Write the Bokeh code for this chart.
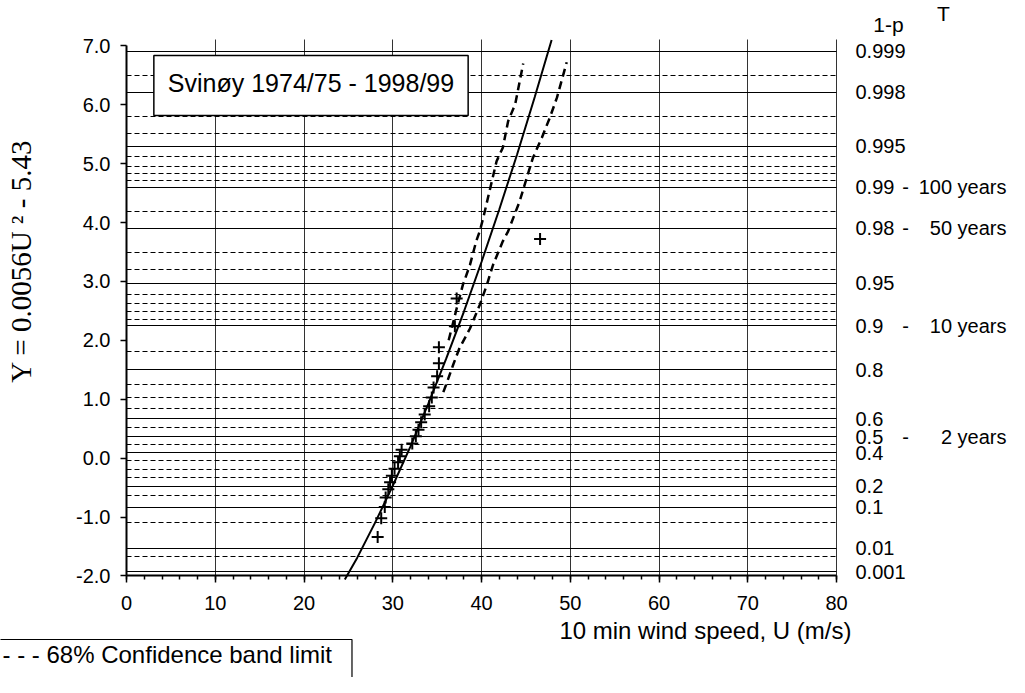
import math
from bokeh.plotting import figure
from bokeh.models import FixedTicker, SingleIntervalTicker, NumeralTickFormatter, Grid, Label
from bokeh.embed import file_html
from bokeh.resources import INLINE

# ---------------- data ----------------
obs_u = [28.3, 28.7, 29.1, 29.2, 29.5, 29.7, 29.9, 30.2, 30.6, 30.8, 31.0, 32.2, 32.6,
         32.9, 33.2, 33.6, 34.1, 34.4, 34.6, 35.0, 35.2, 35.2, 37.0, 37.2, 46.6]
obs_y = [-1.34, -1.02, -0.83, -0.67, -0.53, -0.41, -0.30, -0.18, -0.07, 0.03, 0.14, 0.25, 0.37,
         0.48, 0.61, 0.74, 0.88, 1.03, 1.20, 1.39, 1.61, 1.88, 2.24, 2.71, 3.72]

fit_u = [24.6, 26.0, 28.0, 30.0, 32.0, 34.0, 36.0, 38.0, 40.0, 42.0, 44.0, 46.0, 47.9]
fit_y = [-2.06, -1.69, -1.10, -0.47, 0.20, 0.92, 1.68, 2.48, 3.33, 4.22, 5.15, 6.13, 7.10]

band_lo_u = [36.3, 37.2, 37.9, 38.7, 39.4, 39.8, 40.2, 40.9, 41.7, 42.4, 43.0, 43.8, 44.7]
band_lo_y = [2.00, 2.54, 2.94, 3.28, 3.68, 3.85, 4.08, 4.53, 5.04, 5.27, 5.72, 6.01, 6.70]
band_hi_u = [35.7, 36.0, 36.8, 37.5, 38.7, 39.8, 40.6, 41.3, 42.4, 43.0, 44.3, 45.1, 45.8, 46.8, 47.7, 48.5, 49.6]
band_hi_y = [1.12, 1.24, 1.58, 1.86, 2.20, 2.60, 2.94, 3.28, 3.68, 3.85, 4.36, 4.76, 5.10, 5.44, 5.78, 6.12, 6.72]

x_ticks = [0, 10, 20, 30, 40, 50, 60, 70, 80]
y_ticks = [-2, -1, 0, 1, 2, 3, 4, 5, 6, 7]

prob_major = [0.999, 0.998, 0.995, 0.99, 0.98, 0.95, 0.9, 0.8, 0.6, 0.5, 0.4, 0.2, 0.1, 0.01, 0.001]
prob_major_labels = ["0.999", "0.998", "0.995", "0.99", "0.98", "0.95", "0.9", "0.8",
                     "0.6", "0.5", "0.4", "0.2", "0.1", "0.01", "0.001"]
prob_minor = [0.9985, 0.997, 0.996, 0.994, 0.993, 0.992, 0.991, 0.985, 0.97, 0.96, 0.94, 0.93,
              0.92, 0.91, 0.85, 0.75, 0.7, 0.65, 0.55, 0.45, 0.35, 0.3, 0.25, 0.15, 0.05, 0.005]
period_prob = [0.99, 0.98, 0.9, 0.5]
period_labels = ["100 years", "50 years", "10 years", "2 years"]

title_text = "Svinøy 1974/75 - 1998/99"
ylabel_text = "Y = 0.0056U ²  - 5.43"
xlabel_text = "10 min wind speed, U (m/s)"
legend_text = "- - - 68% Confidence band limit"

X_MIN, X_MAX = 0, 80
Y_MIN, Y_MAX = -2, 7
Y_TOP = 7.1


def gumbel(p):
    return -math.log(-math.log(p))


# page-pixel helpers for placing annotations (page = canvas + 8)
X0, XS = 134.0, 8.875
Y7, YS = 53.3, 58.9


def ax(px):
    return (px - X0) / XS


def ay(py):
    return 7.0 - (py - Y7) / YS


SANS = "Liberation Sans"
SERIF = "Liberation Serif"

W, H = 1009, 677
p = figure(width=W, height=H, x_range=(ax(8), ax(8 + W)), y_range=(ay(8 + H), ay(8)),
           output_backend="svg", toolbar_location=None,
           min_border_left=0, min_border_right=0, min_border_top=0, min_border_bottom=0)
p.outline_line_color = None
p.background_fill_color = "white"

# axes placed at fixed data locations
p.xaxis.fixed_location = Y_MIN
p.xaxis.bounds = (X_MIN, X_MAX)
p.xaxis.ticker = SingleIntervalTicker(interval=10, num_minor_ticks=5)
p.xaxis.axis_line_width = 2
p.xaxis.axis_line_color = "black"
p.xaxis.major_tick_out = 7
p.xaxis.major_tick_in = 0
p.xaxis.minor_tick_out = 4
p.xaxis.minor_tick_in = 0
p.xaxis.major_tick_line_width = 1.5
p.xaxis.minor_tick_line_width = 1.5
p.xaxis.major_label_text_font = SANS
p.xaxis.major_label_text_font_size = "20px"
p.xaxis.major_label_text_color = "black"
p.xaxis.major_label_standoff = 13

p.yaxis.fixed_location = X_MIN
p.yaxis.ticker = FixedTicker(ticks=y_ticks)
p.yaxis.formatter = NumeralTickFormatter(format="0.0")
p.yaxis.bounds = (Y_MIN, Y_MAX)
p.yaxis.axis_line_width = 2
p.yaxis.axis_line_color = "black"
p.yaxis.major_tick_out = 6
p.yaxis.major_tick_in = 0
p.yaxis.minor_tick_out = 0
p.yaxis.major_tick_line_width = 1.5
p.yaxis.major_label_text_font = SANS
p.yaxis.major_label_text_font_size = "20px"
p.yaxis.major_label_text_color = "black"
p.yaxis.major_label_standoff = 10

# grids restricted to the plotting area
p.xgrid.ticker = FixedTicker(ticks=x_ticks[1:])
p.xgrid.grid_line_color = "black"
p.xgrid.grid_line_alpha = 0.8
p.xgrid.grid_line_width = 1
p.xgrid.bounds = (X_MIN, X_MAX)
p.xgrid.cross_bounds = (Y_MIN, Y_TOP)
p.ygrid.visible = False

hgrid = Grid(dimension=1,
             ticker=FixedTicker(ticks=[gumbel(v) for v in prob_major],
                                minor_ticks=[gumbel(v) for v in prob_minor]),
             bounds=(Y_MIN, Y_TOP), cross_bounds=(X_MIN, X_MAX),
             grid_line_color="black", grid_line_width=1,
             minor_grid_line_color="black", minor_grid_line_width=1,
             minor_grid_line_dash="5 3")
p.add_layout(hgrid)

# marks
p.line(fit_u, fit_y, line_color="black", line_width=2)
p.line(band_lo_u, band_lo_y, line_color="black", line_width=2.5, line_dash="8 5")
p.line(band_hi_u, band_hi_y, line_color="black", line_width=2.5, line_dash="8 5")
p.scatter(obs_u, obs_y, marker="cross", size=12, line_color="black", line_width=2)

# title box (anchor = middle of the padded box)
p.add_layout(Label(x=ax(318.5), y=ay(93), text=title_text, text_align="center",
                   text_baseline="middle", text_font=SANS, text_font_size="25px",
                   text_color="black", border_line_color="black", border_line_width=1.5,
                   background_fill_color="white",
                   padding=dict(left=14, right=14, top=13, bottom=19)))

# y label
p.add_layout(Label(x=ax(28), y=ay(265), text=ylabel_text, angle=90, angle_units="deg",
                   text_align="center", text_baseline="middle", text_font=SERIF,
                   text_font_size="29px", text_color="black"))

# x label
p.add_layout(Label(x=ax(859), y=ay(638), text=xlabel_text, text_align="right",
                   text_baseline="middle", text_font=SANS, text_font_size="24px",
                   text_color="black"))

# legend box (left edge and bottom run off the page as in the reference)
p.add_layout(Label(x=ax(0), y=ay(681), text=legend_text, text_align="left",
                   text_baseline="middle", text_font=SANS, text_font_size="24px",
                   text_color="black", border_line_color="black", border_line_width=1.2,
                   background_fill_color="white",
                   padding=dict(left=10, right=20, top=1, bottom=40)))

# right-hand probability labels
for v, lab in zip(prob_major, prob_major_labels):
    p.add_layout(Label(x=ax(863), y=gumbel(v), text=lab, text_align="left",
                       text_baseline="middle", text_font=SANS, text_font_size="20px",
                       text_color="black"))
for v, lab in zip(period_prob, period_labels):
    p.add_layout(Label(x=ax(913), y=gumbel(v), text="-", text_align="center",
                       text_baseline="middle", text_font=SANS, text_font_size="20px",
                       text_color="black"))
    p.add_layout(Label(x=ax(1014), y=gumbel(v), text=lab, text_align="right",
                       text_baseline="middle", text_font=SANS, text_font_size="20px",
                       text_color="black"))

p.add_layout(Label(x=ax(896), y=ay(32), text="1-p", text_align="center",
                   text_baseline="middle", text_font=SANS, text_font_size="21px",
                   text_color="black"))
p.add_layout(Label(x=ax(951), y=ay(21), text="T", text_align="center",
                   text_baseline="middle", text_font=SANS, text_font_size="21px",
                   text_color="black"))

open("out.html", "w").write(file_html(p, INLINE))
